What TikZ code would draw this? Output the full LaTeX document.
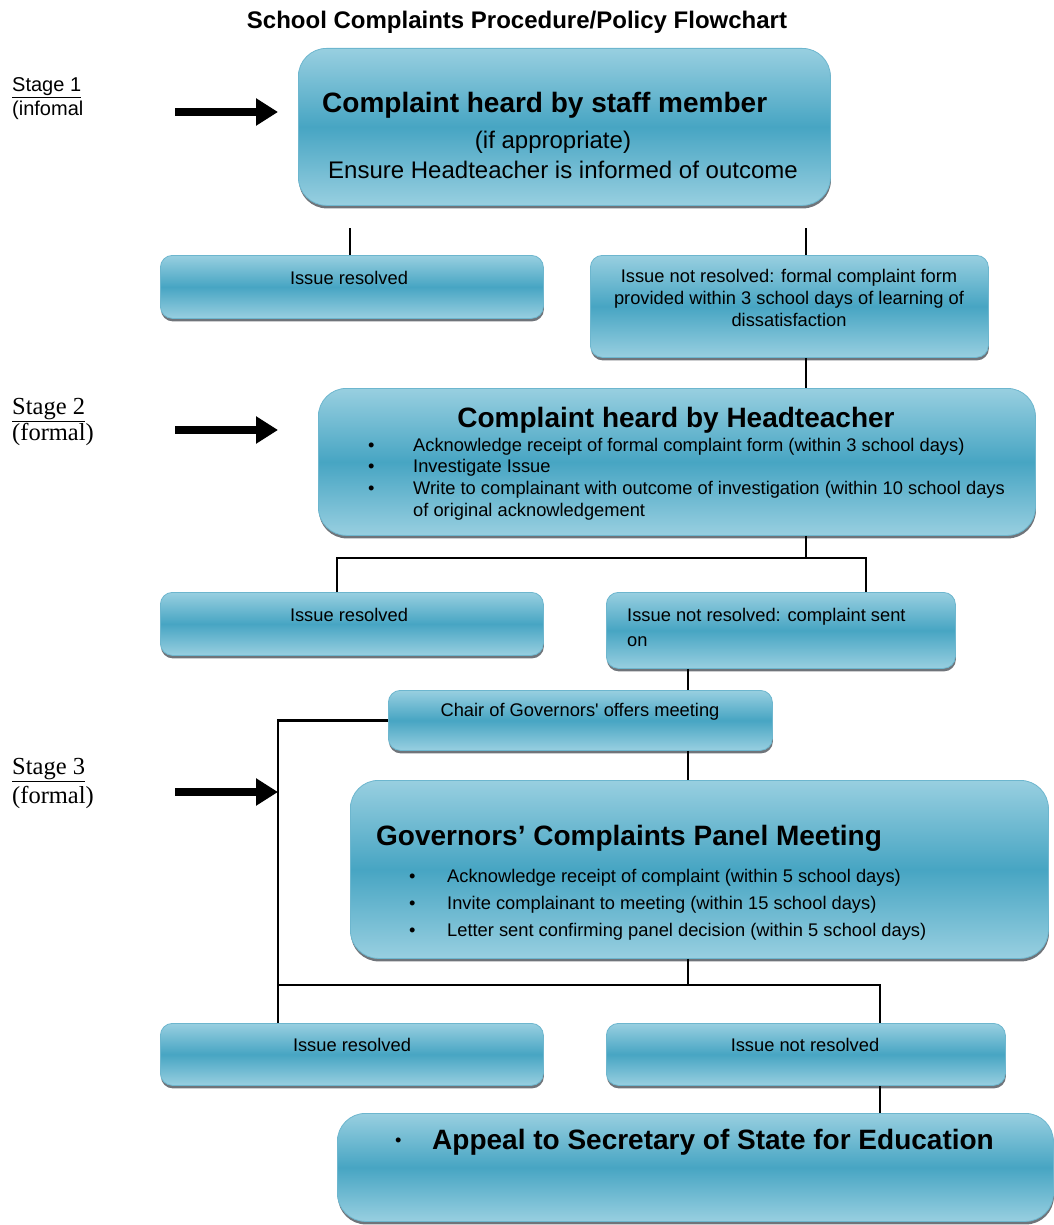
\documentclass[tikz,border=0pt]{standalone}
\usepackage{fontspec}
\setmainfont{Liberation Sans}
\newfontfamily\arial{Liberation Sans}
\newfontfamily\seriff{Liberation Serif}
\usetikzlibrary{shadows,arrows.meta}
\definecolor{boxlight}{HTML}{98CFE0}
\definecolor{boxdark}{HTML}{47A5C3}
\definecolor{boxedge}{HTML}{6DB6CE}
\tikzset{
 box/.style={draw=boxedge, line width=0.8pt, top color=boxlight, bottom color=boxlight, middle color=boxdark,
   drop shadow={shadow xshift=0.5pt, shadow yshift=-3pt, fill=black!60!cyan!50!black, opacity=0.75},
   inner sep=0pt, anchor=north west},
 big/.style={box, rounded corners=28pt},
 small/.style={box, rounded corners=12pt},
 conn/.style={line width=2.8pt, black},
 stagearrow/.style={line width=8pt, -{Triangle[length=22pt,width=26pt]}},
 bigtitle/.style={font=\arial\bfseries\fontsize{28}{32}\selectfont, inner sep=0pt},
 mid/.style={font=\arial\fontsize{24}{28}\selectfont, inner sep=0pt},
 nartext/.style={font=\arial\fontsize{18.3}{22}\selectfont, inner sep=0pt},
 bullettext/.style={font=\arial\fontsize{18.3}{22}\selectfont, inner sep=0pt, anchor=west},
 stagelab/.style={font=\arial\fontsize{20}{24}\selectfont, inner sep=0pt, anchor=west},
 stagelabs/.style={font=\seriff\fontsize{24.5}{28}\selectfont, inner sep=0pt, anchor=west},
}
\begin{document}
\begin{tikzpicture}[x=1pt,y=-1pt]
\useasboundingbox (0,0) rectangle (1053,1225);
% title
\node[font=\arial\bfseries\fontsize{24}{28}\selectfont, inner sep=0pt] (title) at (517,22) {School Complaints Procedure/Policy Flowchart};
% boxes
\node[big, minimum width=532pt, minimum height=157pt] (t1) at (298,48) {};
\node[small, minimum width=383pt, minimum height=63pt] (ir1) at (160,255) {};
\node[small, minimum width=398pt, minimum height=102pt] (inr1) at (590,255) {};
\node[big, minimum width=717pt, minimum height=147pt] (hb) at (318,388) {};
\node[small, minimum width=383pt, minimum height=63pt] (ir2) at (160,592) {};
\node[small, minimum width=349pt, minimum height=76pt] (inr2) at (606,592) {};
\node[small, minimum width=384pt, minimum height=60pt] (chair) at (388,690) {};
\node[big, minimum width=698pt, minimum height=178pt] (gov) at (350,780) {};
\node[small, minimum width=383pt, minimum height=62pt] (ir3) at (160,1023) {};
\node[small, minimum width=399pt, minimum height=62pt] (inr3) at (606,1023) {};
\node[big, minimum width=716pt, minimum height=108pt] (appeal) at (337,1113) {};
% texts
\node[bigtitle, anchor=west] (t1a) at (322,105) {Complaint heard by staff member};
\node[mid] (t1b) at (553,142) {(if appropriate)};
\node[mid] (t1c) at (563,170) {Ensure Headteacher is informed of outcome};
\node[nartext] (ir1t) at (349,278) {Issue resolved};
\node[nartext, align=center] (inr1t) at (789,298) {Issue not resolved: formal complaint form\\provided within 3 school days of learning of\\dissatisfaction};
\node[bigtitle] (hbt) at (676,420) {Complaint heard by Headteacher};
\foreach \yy/\tx [count=\i] in {447/Acknowledge receipt of formal complaint form (within 3 school days),468/Investigate Issue,490/Write to complainant with outcome of investigation (within 10 school days}{
  \node[bullettext] (hbb\i) at (368,\yy) {\textbullet};
  \node[bullettext] (hbl\i) at (413,\yy) {\tx};
}
\node[bullettext] (hbl4) at (413,512) {of original acknowledgement};
\node[nartext] (ir2t) at (349,615) {Issue resolved};
\node[nartext, anchor=west] (inr2a) at (627,617) {Issue not resolved: complaint sent};
\node[nartext, anchor=west] (inr2b) at (627,642) {on};
\node[nartext] (chairt) at (580,712) {Chair of Governors\textquotesingle\ offers meeting};
\node[bigtitle, anchor=west] (govt) at (376,838) {Governors’ Complaints Panel Meeting};
\foreach \yy/\tx [count=\i] in {878/Acknowledge receipt of complaint (within 5 school days),905/Invite complainant to meeting (within 15 school days),932/Letter sent confirming panel decision (within 5 school days)}{
  \node[bullettext] (gb\i) at (409,\yy) {\textbullet};
  \node[bullettext] (gl\i) at (447,\yy) {\tx};
}
\node[nartext] (ir3t) at (352,1045) {Issue resolved};
\node[nartext] (inr3t) at (805,1045) {Issue not resolved};
\node[bullettext] (apb) at (395,1142) {\textbullet};
\node[bigtitle, anchor=west] (apt) at (432,1142) {Appeal to Secretary of State for Education};
% stage labels
\node[stagelab] (s1a) at (12,88) {\underline{Stage 1}};
\node[stagelab] (s1b) at (12,110) {(infomal};
\node[stagelabs] (s2a) at (12,410) {\underline{Stage 2}};
\node[stagelabs] (s2b) at (12,434) {(formal)};
\node[stagelabs] (s3a) at (12,770) {\underline{Stage 3}};
\node[stagelabs] (s3b) at (12,797) {(formal)};
% coordinates
\coordinate (a1) at (350,228);
\coordinate (a2) at (806,228);
\coordinate (j2) at (806,558);
\coordinate (l2) at (337,0);
\coordinate (r2) at (866,0);
\coordinate (c3) at (688,0);
\coordinate (lb) at (278,0);
\coordinate (j3) at (688,985);
\coordinate (r3) at (880,0);
\coordinate (s1s) at (175,112);
\coordinate (s1e) at (278,112);
\coordinate (s2s) at (175,430);
\coordinate (s2e) at (278,430);
\coordinate (s3s) at (175,792);
% connectors
\draw[conn] (a1) -- (a1 |- ir1.north);
\draw[conn] (a2) -- (a2 |- inr1.north);
\draw[conn] (inr1.south -| a2) -- (a2 |- hb.north);
\draw[conn] (hb.south -| j2) -- (j2);
\draw[conn] (ir2.north -| l2) |- (j2) -| (inr2.north -| r2);
\draw[conn] (inr2.south -| c3) -- (c3 |- chair.north);
\draw[conn] (chair.south -| c3) -- (c3 |- gov.north);
\draw[conn] (chair.west) -| (lb |- ir3.north);
\draw[conn] (gov.south -| c3) -- (j3);
\draw[conn] (lb |- j3) -- (j3) -| (inr3.north -| r3);
\draw[conn] (inr3.south -| r3) -- (r3 |- appeal.north);
% stage arrows
\draw[stagearrow] (s1s) -- (s1e);
\draw[stagearrow] (s2s) -- (s2e);
\draw[stagearrow] (s3s) -- (lb |- s3s);
\end{tikzpicture}
\end{document}
